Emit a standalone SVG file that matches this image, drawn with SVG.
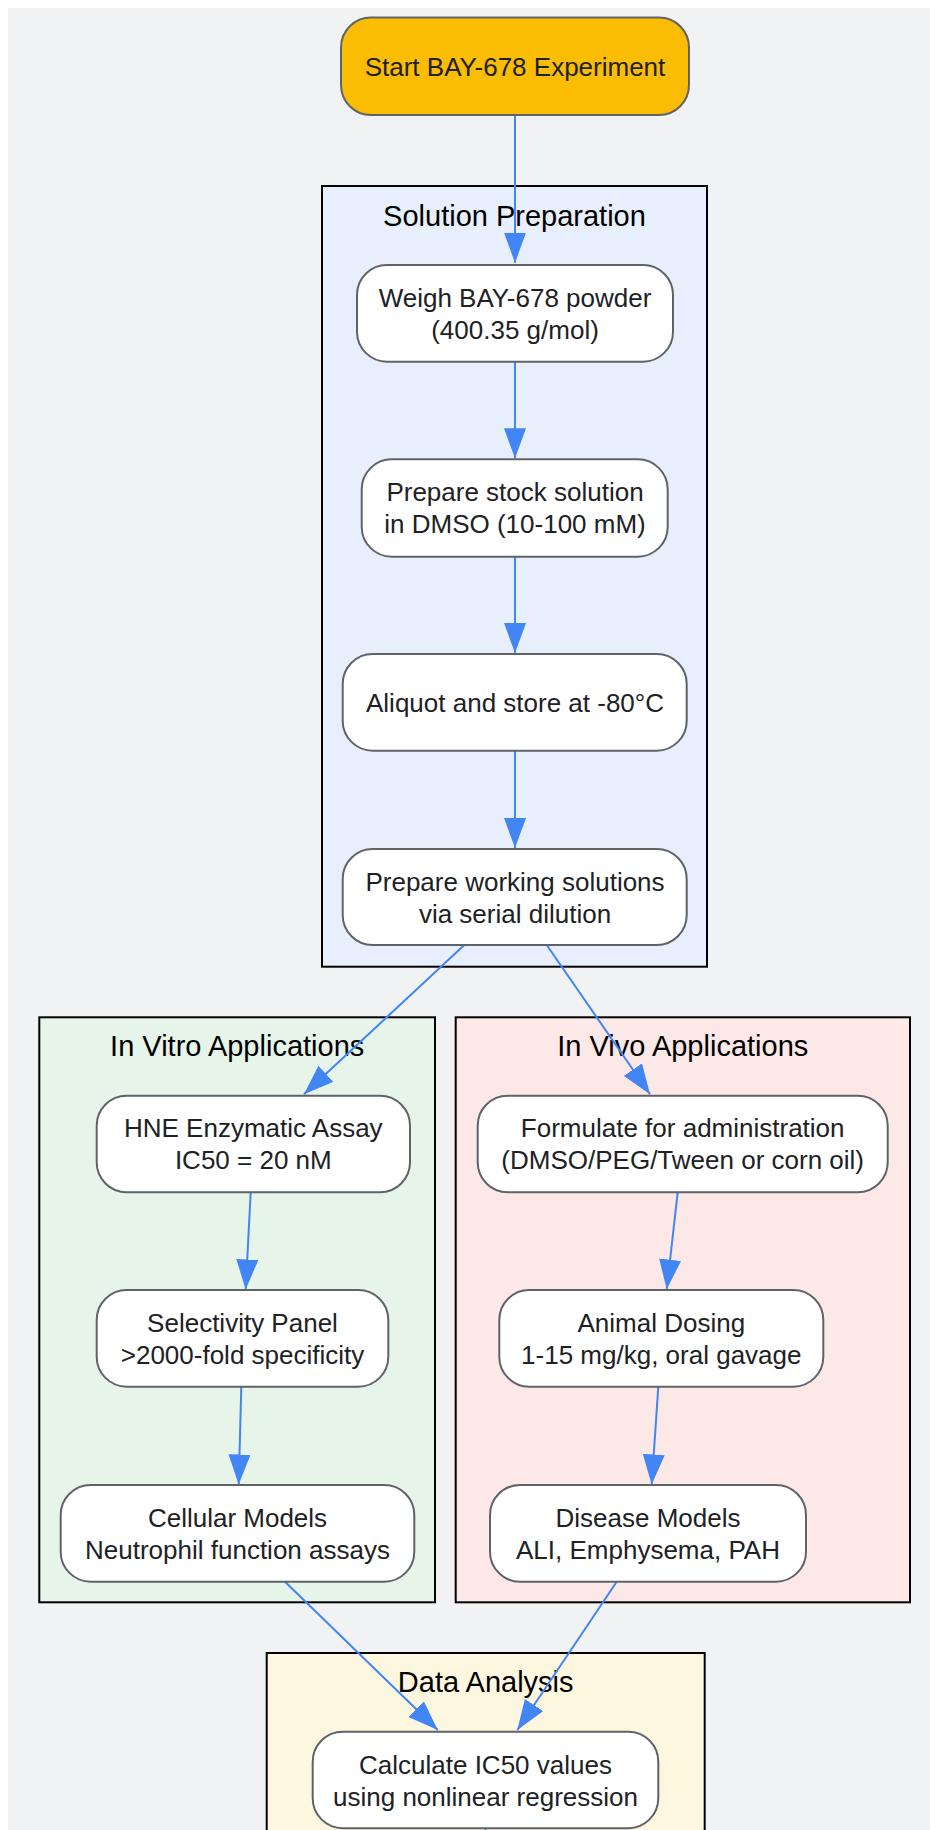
<svg xmlns="http://www.w3.org/2000/svg" width="930" height="1830" viewBox="0 0 930 1830">
<style>
.node rect{fill:#ffffff;stroke:#5f6368;stroke-width:2}
.node text{font-family:"Liberation Sans",Arial,sans-serif;font-size:26px;fill:#202124;text-anchor:middle}
.cluster rect{stroke:#000000;stroke-width:2}
.cluster text{font-family:"Liberation Sans",Arial,sans-serif;font-size:29px;fill:#000000;text-anchor:middle}
.edges path{fill:none;stroke:#4285f4;stroke-width:2;marker-end:url(#arr)}
</style>
<defs>
<marker id="arr" markerUnits="userSpaceOnUse" markerWidth="30" markerHeight="22" refX="30" refY="11" orient="auto" viewBox="0 0 30 22">
<path d="M0,0 L30,11 L0,22 z" fill="#4285f4"/>
</marker>
</defs>
<rect x="0" y="0" width="930" height="1830" fill="#ffffff"/>
<rect x="8" y="8" width="922" height="1822" fill="#f1f2f4"/>

<g id="cluster-solution" class="cluster">
<rect x="322" y="186" width="385" height="780.7" fill="#e8effc"/>
<text x="514.5" y="225.7">Solution Preparation</text>
</g>
<g id="cluster-invitro" class="cluster">
<rect x="39.3" y="1017.3" width="395.7" height="585" fill="#e6f4ea"/>
<text x="237.2" y="1055.7">In Vitro Applications</text>
</g>
<g id="cluster-invivo" class="cluster">
<rect x="455.7" y="1017.3" width="454.3" height="585" fill="#fce8e6"/>
<text x="682.8" y="1055.7">In Vivo Applications</text>
</g>
<g id="cluster-analysis" class="cluster">
<rect x="266.7" y="1653" width="438" height="220" fill="#fef7e0"/>
<text x="485.7" y="1691.7">Data Analysis</text>
</g>

<g id="edges" class="edges">
<path d="M515,115 L515,262.7"/>
<path d="M515,361.7 L515,458.3"/>
<path d="M515,556.7 L515,653"/>
<path d="M515,750.7 L515,848"/>
<path d="M464.3,945 L304,1094.3"/>
<path d="M546.7,945 L650,1094.3"/>
<path d="M250.7,1192.3 L245.7,1289.5"/>
<path d="M241.3,1386.7 L238.7,1484.5"/>
<path d="M677.7,1192.3 L666.7,1289.5"/>
<path d="M658.3,1386.7 L651.7,1484.5"/>
<path d="M285,1581.7 L437.7,1730"/>
<path d="M616.7,1581.7 L517.3,1730"/>
<line x1="485.5" y1="1828" x2="485.5" y2="1840" stroke="#4285f4" stroke-width="2"/>
</g>

<g id="node-start" class="node">
<rect x="341" y="17.5" width="348" height="97.5" rx="30" ry="30" style="fill:#fbbc04"/>
<text x="515" y="75.5">Start BAY-678 Experiment</text>
</g>
<g id="node-weigh" class="node">
<rect x="357" y="265" width="316" height="96.7" rx="30" ry="30"/>
<text x="515" y="306.5">Weigh BAY-678 powder</text>
<text x="515" y="338.5">(400.35 g/mol)</text>
</g>
<g id="node-stock" class="node">
<rect x="361.7" y="459.3" width="306" height="97.4" rx="30" ry="30"/>
<text x="515" y="500.8">Prepare stock solution</text>
<text x="515" y="532.8">in DMSO (10-100 mM)</text>
</g>
<g id="node-aliquot" class="node">
<rect x="342.7" y="654" width="344" height="96.7" rx="30" ry="30"/>
<text x="515" y="711.7">Aliquot and store at -80°C</text>
</g>
<g id="node-working" class="node">
<rect x="342.7" y="849" width="344" height="96" rx="30" ry="30"/>
<text x="515" y="890.5">Prepare working solutions</text>
<text x="515" y="922.5">via serial dilution</text>
</g>
<g id="node-hne" class="node">
<rect x="96.7" y="1095.7" width="313.3" height="96.6" rx="30" ry="30"/>
<text x="253.3" y="1137">HNE Enzymatic Assay</text>
<text x="253.3" y="1169.3">IC50 = 20 nM</text>
</g>
<g id="node-selectivity" class="node">
<rect x="96.7" y="1290" width="291.6" height="96.7" rx="30" ry="30"/>
<text x="242.5" y="1331.7">Selectivity Panel</text>
<text x="242.5" y="1364">&gt;2000-fold specificity</text>
</g>
<g id="node-cellular" class="node">
<rect x="60.7" y="1485" width="353.6" height="96.7" rx="30" ry="30"/>
<text x="237.5" y="1526.7">Cellular Models</text>
<text x="237.5" y="1559">Neutrophil function assays</text>
</g>
<g id="node-formulate" class="node">
<rect x="477.7" y="1095.7" width="410" height="96.6" rx="30" ry="30"/>
<text x="682.7" y="1137">Formulate for administration</text>
<text x="682.7" y="1169.3">(DMSO/PEG/Tween or corn oil)</text>
</g>
<g id="node-dosing" class="node">
<rect x="499.3" y="1290" width="324" height="96.7" rx="30" ry="30"/>
<text x="661.3" y="1331.7">Animal Dosing</text>
<text x="661.3" y="1364">1-15 mg/kg, oral gavage</text>
</g>
<g id="node-disease" class="node">
<rect x="490" y="1485" width="316" height="96.7" rx="30" ry="30"/>
<text x="648" y="1526.7">Disease Models</text>
<text x="648" y="1559">ALI, Emphysema, PAH</text>
</g>
<g id="node-ic50" class="node">
<rect x="312.7" y="1731.7" width="345.6" height="96.5" rx="30" ry="30"/>
<text x="485.5" y="1774">Calculate IC50 values</text>
<text x="485.5" y="1805.5">using nonlinear regression</text>
</g>
</svg>
